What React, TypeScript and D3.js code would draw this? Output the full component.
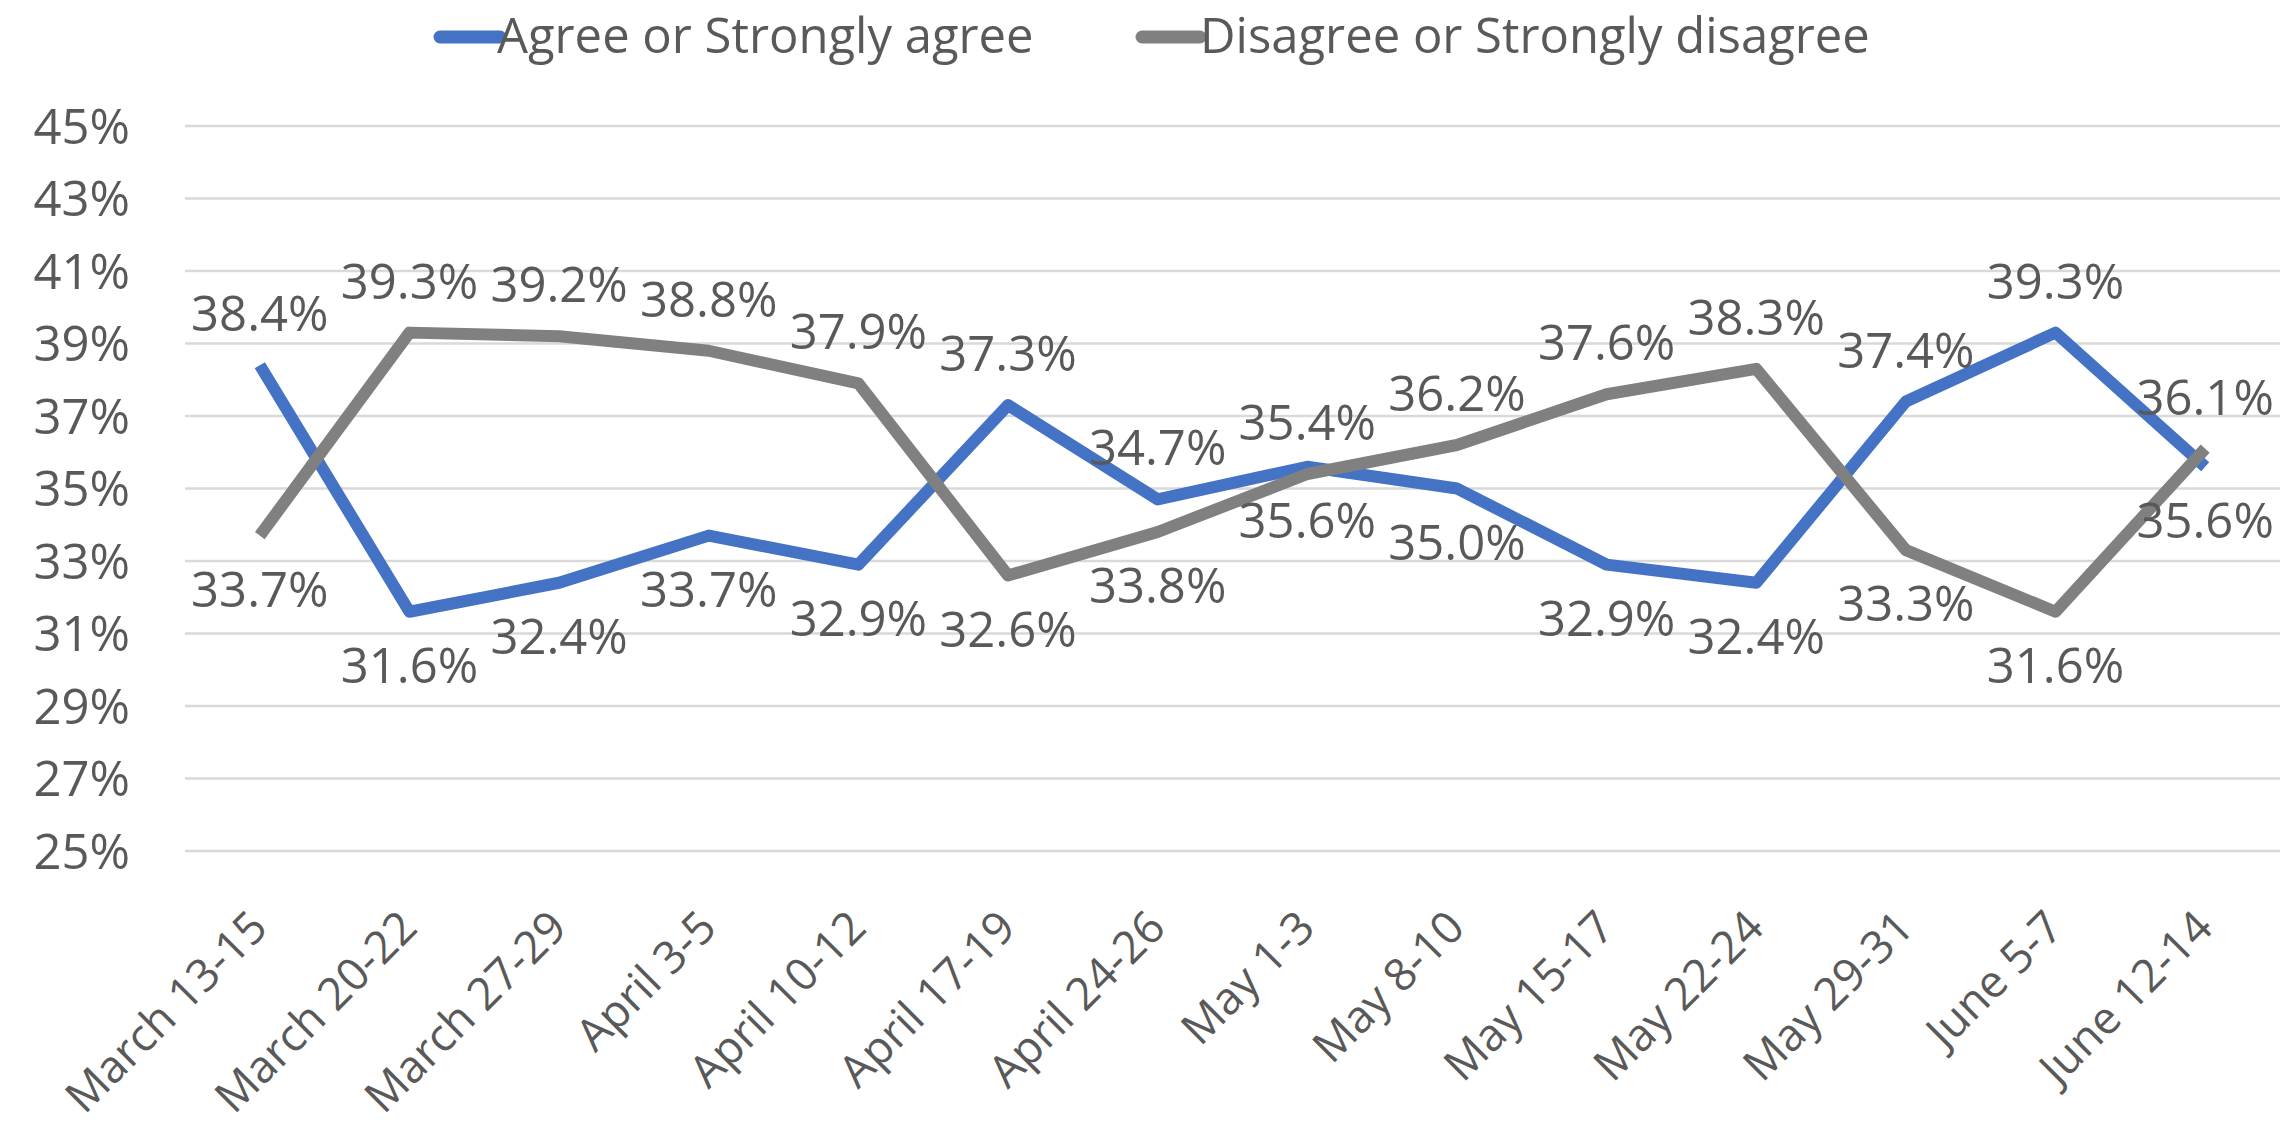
import React, { useEffect } from "react";
import * as d3 from "d3";

const categories = [
  "March 13-15", "March 20-22", "March 27-29", "April 3-5", "April 10-12",
  "April 17-19", "April 24-26", "May 1-3", "May 8-10", "May 15-17",
  "May 22-24", "May 29-31", "June 5-7", "June 12-14",
];
const agree = [38.4, 31.6, 32.4, 33.7, 32.9, 37.3, 34.7, 35.6, 35.0, 32.9, 32.4, 37.4, 39.3, 35.6];
const disagree = [33.7, 39.3, 39.2, 38.8, 37.9, 32.6, 33.8, 35.4, 36.2, 37.6, 38.3, 33.3, 31.6, 36.1];
// label placement: "a" = above, "b" = below
const agreeLabelPos = ["a", "b", "b", "b", "b", "a", "a", "b", "b", "b", "b", "a", "a", "b"];
const disagreeLabelPos = ["b", "a", "a", "a", "a", "b", "b", "a", "a", "a", "a", "b", "b", "a"];
const yTicks = [25, 27, 29, 31, 33, 35, 37, 39, 41, 43, 45];
const seriesNames = ["Agree or Strongly agree", "Disagree or Strongly disagree"];

const W = 2295;
const H = 1139;
const FONT = "'Open Sans', 'Noto Sans', sans-serif";
const TEXT = "#595959";
const BLUE = "#4472C4";
const GREY = "#808080";
const FS = 49;
const XFS = 45;

export default function App() {
  useEffect(() => {
    document.body.style.margin = "0";
  }, []);

  const x = d3.scalePoint<string>().domain(categories).range([185, 2280]).padding(0.5);
  const y = d3.scaleLinear().domain([25, 45]).range([851, 126]);
  const line = d3
    .line<number>()
    .x((_, i) => x(categories[i]) as number)
    .y((d) => y(d));

  const series = [
    { name: seriesNames[0], values: agree, pos: agreeLabelPos, color: BLUE },
    { name: seriesNames[1], values: disagree, pos: disagreeLabelPos, color: GREY },
  ];

  const legend = [
    { name: seriesNames[0], color: BLUE, x0: 440, x1: 500, tx: 497 },
    { name: seriesNames[1], color: GREY, x0: 1142, x1: 1200, tx: 1200 },
  ];

  return (
    <svg
      width={W}
      height={H}
      style={{ position: "absolute", left: 0, top: 0, display: "block", background: "#fff" }}
      fontFamily={FONT}
    >
      <rect x={0} y={0} width={W} height={H} fill="#fff" />
      {yTicks.map((t) => (
        <line key={t} x1={185} x2={2280} y1={y(t)} y2={y(t)} stroke="#D9D9D9" strokeWidth={2.5} />
      ))}
      {yTicks.map((t) => (
        <text key={"yl" + t} x={130} y={y(t) + 17.5} textAnchor="end" fontSize={FS} fill={TEXT}>
          {t}%
        </text>
      ))}
      {categories.map((c) => {
        const cx = x(c) as number;
        return (
          <text
            key={c}
            transform={`translate(${cx + 10},${930}) rotate(-45)`}
            textAnchor="end"
            fontSize={XFS}
            fill={TEXT}
          >
            {c}
          </text>
        );
      })}
      {series.map((s) => (
        <path
          key={s.name}
          d={line(s.values) || ""}
          fill="none"
          stroke={s.color}
          strokeWidth={12}
          strokeLinejoin="round"
          strokeLinecap="butt"
        />
      ))}
      {series.map((s) =>
        s.values.map((v, i) => {
          const cx = x(categories[i]) as number;
          const cy = y(v);
          const ty = s.pos[i] === "a" ? cy - 34 : cy + 71;
          return (
            <text key={s.name + i} x={cx} y={ty} textAnchor="middle" fontSize={FS} fill={TEXT}>
              {v.toFixed(1)}%
            </text>
          );
        })
      )}
      {legend.map((l) => (
        <g key={l.name}>
          <line x1={l.x0} x2={l.x1} y1={37} y2={37} stroke={l.color} strokeWidth={13} strokeLinecap="round" />
          <text x={l.tx} y={53} fontSize={FS} fill={TEXT}>
            {l.name}
          </text>
        </g>
      ))}
    </svg>
  );
}
